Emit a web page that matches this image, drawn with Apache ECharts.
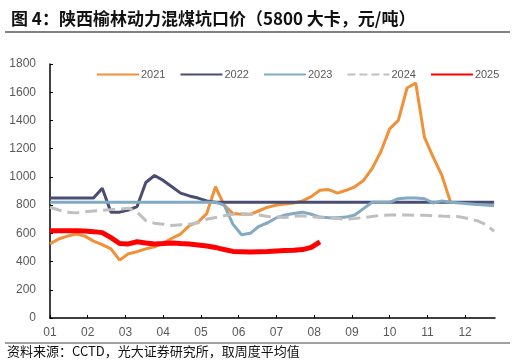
<!DOCTYPE html>
<html><head><meta charset="utf-8">
<script src="https://cdn.jsdelivr.net/npm/echarts@6/dist/echarts.min.js"></script>
<style>html,body{margin:0;padding:0;background:#fff}#c{width:516px;height:364px}</style>
</head><body><div id="c"></div>
<script>
// weekly index (0..51) on the x axis; month ticks labelled 01..12
const monthLabels = ['01','02','03','04','05','06','07','08','09','10','11','12'];
const yTicks = [0,200,400,600,800,1000,1200,1400,1600,1800];
const s2021 = [525,560,580,595,580,545,520,490,410,455,470,490,505,530,565,595,655,680,740,930,800,740,735,735,760,785,800,808,815,830,860,905,910,885,905,930,975,1060,1180,1340,1400,1630,1665,1280,1140,1010,820];
const s2022 = [850,850,850,850,850,850,920,750,750,765,790,960,1010,975,930,885,865,850,830,820,820,820,820,820,820,820,820,820,820,820,820,820,820,820,820,820,820,820,820,820,820,820,820,820,820,820,820,820,820,820,820,820];
const s2023 = [820,820,820,820,820,820,820,820,820,820,820,820,820,820,820,820,820,820,820,820,800,665,590,600,650,675,710,730,740,750,735,715,710,710,715,730,775,820,820,820,845,850,850,845,815,830,820,815,810,805,800,795];
const s2024 = [785,765,750,745,752,758,763,768,772,778,750,690,672,665,655,660,665,675,700,712,725,735,738,735,730,720,715,712,720,725,718,712,710,705,700,705,712,720,728,730,730,730,728,728,725,722,720,718,705,690,665,615];
const s2025 = [618,618,618,618,616,612,605,570,528,525,540,532,525,528,532,528,525,518,510,500,485,472,470,468,470,472,475,478,480,485,500,540];
const names = ['2021','2022','2023','2024','2025'];
const colors = ['#f0913a','#4b4c71','#82aac3','#bfbfbf','#ff0000'];
const widths = [3,3,3,3,5];
const types = ['solid','solid','solid','dashed','solid'];
const allData = [s2021,s2022,s2023,s2024,s2025];
const weeksPerMonth = 52/12;
const monthPos = monthLabels.map((_, i) => i*weeksPerMonth);

const chart = echarts.init(document.getElementById('c'), null, {renderer:'canvas'});
const font = '"Liberation Sans", Arial, "Noto Sans CJK SC", sans-serif';
chart.setOption({
  animation:false,
  textStyle:{fontFamily:font},
  title:{
    text:'图 4：陕西榆林动力混煤坑口价（5800 大卡，元/吨）',
    left:6, top:5,
    textStyle:{fontSize:17, fontWeight:'bold', color:'#111', fontFamily:'"Noto Sans CJK SC", sans-serif'}
  },
  graphic:[
    {type:'line', shape:{x1:5,y1:32,x2:510,y2:32}, style:{stroke:'#808080', lineWidth:2}},
    {type:'line', shape:{x1:5,y1:343,x2:510,y2:343}, style:{stroke:'#808080', lineWidth:1.5}},
    {type:'text', left:7, top:345, style:{text:'资料来源：CCTD，光大证券研究所，取周度平均值', fontSize:13, fill:'#111', fontFamily:'"Noto Sans CJK SC", sans-serif'}}
  ],
  legend:{
    top:64, left:91, itemGap:14, itemWidth:42, itemHeight:10,
    itemStyle:{opacity:0},
    textStyle:{fontSize:11, color:'#595959', padding:[0,0,0,-3]},
    data:names
  },
  grid:{left:50, right:21, top:64, bottom:46},
  xAxis:{
    type:'value', min:0, max:51.1,
    axisLine:{lineStyle:{color:'#000', width:1.5}},
    axisTick:{show:true, inside:true, length:3, customValues:monthPos, lineStyle:{color:'#000'}},
    axisLabel:{customValues:monthPos, fontSize:12, color:'#595959', margin:9,
      formatter:v => monthLabels[Math.round(v/weeksPerMonth)]},
    splitLine:{show:false}
  },
  yAxis:{
    type:'value', min:yTicks[0], max:yTicks[yTicks.length-1], interval:200,
    axisLine:{show:true, lineStyle:{color:'#000', width:1.5}},
    axisTick:{show:true, inside:true, length:3, lineStyle:{color:'#000'}},
    axisLabel:{fontSize:12, color:'#595959', margin:14, formatter:v => String(v)},
    splitLine:{show:false}
  },
  series: names.map((n,i)=>({
    name:n, type:'line', symbol:'none', smooth:false,
    data: allData[i].map((v,k)=>[k,v]),
    lineStyle:{color:colors[i], width:widths[i], type:types[i]},
    itemStyle:{color:colors[i]},
    z: i===4?5:2
  }))
});
</script></body></html>
